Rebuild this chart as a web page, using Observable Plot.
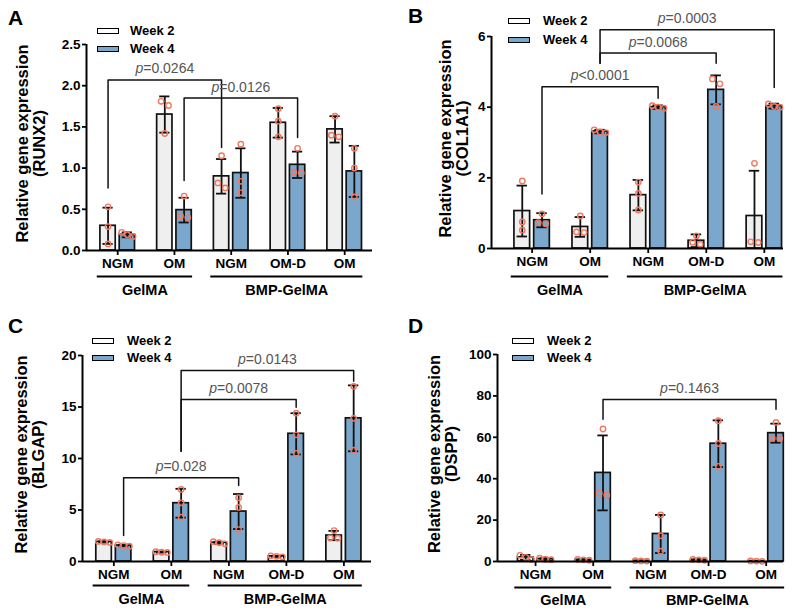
<!DOCTYPE html>
<html><head><meta charset="utf-8">
<script src="https://cdn.jsdelivr.net/npm/d3@7"></script>
<script src="https://cdn.jsdelivr.net/npm/@observablehq/plot@0.6"></script>
<style>
body{margin:0;background:#fff;}
#fig{position:relative;width:800px;height:614px;font-family:"Liberation Sans",Arial,Helvetica,sans-serif;color:#000;}
.panel{position:absolute;width:400px;height:307px;}
.panel svg{position:absolute;left:0;top:0;}
.letter{position:absolute;font-weight:bold;font-size:21px;line-height:21px;}
.leg{position:absolute;font-weight:bold;font-size:13px;line-height:14px;white-space:nowrap;}
.sw{position:absolute;width:20px;height:4px;border:1.5px solid #000;}
</style></head><body><div id="fig"></div>
<script>
// ---------- shared categories ----------
const categories = ["NGM", "OM", "NGM", "OM-D", "OM"];
const groupNames = ["GelMA", "BMP-GelMA"];
const groupFirst = [0, 2];
const groupLast = [1, 4];
const weeks = ["Week 2", "Week 4"];
const genes = ["RUNX2", "COL1A1", "BLGAP", "DSPP"];
const panelLetters = ["A", "B", "C", "D"];

// ---------- A: RUNX2 ----------
const runx2W2Mean = [0.30, 1.65, 0.90, 1.55, 1.47];
const runx2W2Sd   = [0.22, 0.22, 0.21, 0.18, 0.16];
const runx2W2Pts  = [[0.53, 0.29, 0.08], [1.81, 1.76, 1.42], [1.15, 0.82, 0.76], [1.72, 1.57, 1.38], [1.63, 1.40, 1.38]];
const runx2W4Mean = [0.19, 0.49, 0.94, 1.04, 0.96];
const runx2W4Sd   = [0.03, 0.15, 0.30, 0.16, 0.31];
const runx2W4Pts  = [[0.22, 0.19, 0.17], [0.66, 0.42, 0.40], [1.29, 0.84, 0.70], [1.24, 0.95, 0.94], [1.24, 1.00, 0.65]];
const runx2Ticks  = [0, 0.5, 1, 1.5, 2, 2.5];
const runx2Brackets = [
  {a: 0, aw: 0, aEnd: 0.76, b: 2, bw: 0, bEnd: 1.25, top: 2.07, label: "p=0.0264"},
  {a: 1, aw: 1, aEnd: 0.85, b: 3, bw: 1, bEnd: 1.37, top: 1.85, label: "p=0.0126"}
];

// ---------- B: COL1A1 ----------
const col1a1W2Mean = [1.06, 0.61, 1.51, 0.22, 0.92];
const col1a1W2Sd   = [0.72, 0.28, 0.43, 0.18, 1.28];
const col1a1W2Pts  = [[1.91, 0.75, 0.52], [0.92, 0.47, 0.45], [1.88, 1.56, 1.09], [0.36, 0.18, 0.12], [2.41, 0.19, 0.17]];
const col1a1W4Mean = [0.80, 3.31, 4.00, 4.49, 4.03];
const col1a1W4Sd   = [0.20, 0.05, 0.05, 0.41, 0.07];
const col1a1W4Pts  = [[0.98, 0.73, 0.70], [3.36, 3.30, 3.28], [4.04, 4.00, 3.97], [4.80, 4.66, 4.02], [4.09, 4.02, 4.00]];
const col1a1Ticks  = [0, 2, 4, 6];
const col1a1Brackets = [
  {a: 0, aw: 1, aEnd: 1.54, b: 2, bw: 1, bEnd: 4.25, top: 4.58, label: "p<0.0001"},
  {a: 1, aw: 1, aEnd: 5.24, b: 3, bw: 1, bEnd: 5.24, top: 5.53, label: "p=0.0068"},
  {a: 1, aw: 1, aEnd: 5.24, b: 4, bw: 1, bEnd: 4.56, top: 6.19, label: "p=0.0003"}
];

// ---------- C: BLGAP ----------
const blgapW2Mean = [1.90, 0.91, 1.82, 0.50, 2.52];
const blgapW2Sd   = [0.06, 0.05, 0.10, 0.06, 0.45];
const blgapW2Pts  = [[1.95, 1.90, 1.85], [0.95, 0.90, 0.88], [1.92, 1.82, 1.72], [0.55, 0.50, 0.45], [3.00, 2.30, 2.26]];
const blgapW4Mean = [1.55, 5.66, 4.85, 12.40, 13.90];
const blgapW4Sd   = [0.08, 1.40, 1.70, 2.00, 3.20];
const blgapW4Pts  = [[1.62, 1.55, 1.48], [7.00, 5.70, 4.30], [6.20, 5.25, 3.10], [14.40, 12.30, 10.50], [17.00, 13.90, 10.80]];
const blgapTicks  = [0, 5, 10, 15, 20];
const blgapBrackets = [
  {a: 0, aw: 1, aEnd: 2.52, b: 2, bw: 1, bEnd: 7.38, top: 8.12, label: "p=0.028"},
  {a: 1, aw: 1, aEnd: 10.7, b: 3, bw: 1, bEnd: 14.98, top: 15.73, label: "p=0.0078"},
  {a: 1, aw: 1, aEnd: 10.7, b: 4, bw: 1, bEnd: 17.5, top: 18.54, label: "p=0.0143"}
];

// ---------- D: DSPP ----------
const dsppW2Mean = [2.0, 0.8, 0.3, 0.8, 0.2];
const dsppW2Sd   = [1.2, 0.2, 0.1, 0.2, 0.1];
const dsppW2Pts  = [[3.0, 2.0, 1.0], [1.0, 0.8, 0.6], [0.4, 0.3, 0.2], [1.0, 0.8, 0.6], [0.3, 0.2, 0.1]];
const dsppW4Mean = [1.2, 42.8, 13.3, 56.9, 62.0];
const dsppW4Sd   = [0.4, 18.1, 9.2, 11.3, 4.6];
const dsppW4Pts  = [[1.6, 1.1, 0.9], [64.0, 33.0, 32.0], [22.5, 12.5, 5.0], [68.0, 57.0, 46.0], [67.2, 59.6, 59.4]];
const dsppTicks  = [0, 20, 40, 60, 80, 100];
const dsppBrackets = [
  {a: 1, aw: 1, aEnd: 68.7, b: 4, bw: 1, bEnd: 73.5, top: 78.3, label: "p=0.1463"}
];

// ---------- layout (not data) ----------
const COL_W2 = "#efefef", COL_W4 = "#7ba7cd", COL_DOT = "#ee7a62", COL_P = "#555";
const panels = [
  {gene: genes[0], w2: [runx2W2Mean, runx2W2Sd, runx2W2Pts], w4: [runx2W4Mean, runx2W4Sd, runx2W4Pts],
   brackets: runx2Brackets, ticks: runx2Ticks, fmt: d3.format(".1f"), xDomain: [-0.55, 4.49],
   m: [44, 28, 57, 86], left: 0, top: 0, titleDx: -55, lab: [17, 26, 40], letterTop: 7,
   legX: 97, legY: [31, 49], legTextX: 130},
  {gene: genes[1], w2: [col1a1W2Mean, col1a1W2Sd, col1a1W2Pts], w4: [col1a1W4Mean, col1a1W4Sd, col1a1W4Pts],
   brackets: col1a1Brackets, ticks: col1a1Ticks, fmt: d3.format("d"), xDomain: [-0.70, 4.33],
   m: [36, 17, 59, 91], left: 400, top: 0, titleDx: -37, lab: [17, 28, 42], letterTop: 5,
   legX: 108, legY: [21.7, 40], legTextX: 143},
  {gene: genes[2], w2: [blgapW2Mean, blgapW2Sd, blgapW2Pts], w4: [blgapW4Mean, blgapW4Sd, blgapW4Pts],
   brackets: blgapBrackets, ticks: blgapTicks, fmt: d3.format("d"), xDomain: [-0.545, 4.48],
   m: [48, 29, 53, 82], left: 0, top: 307, titleDx: -52, lab: [14, 24, 38], letterTop: 8,
   legX: 92, legY: [34.7, 51.3], legTextX: 127},
  {gene: genes[3], w2: [dsppW2Mean, dsppW2Sd, dsppW2Pts], w4: [dsppW4Mean, dsppW4Sd, dsppW4Pts],
   brackets: dsppBrackets, ticks: dsppTicks, fmt: d3.format("d"), xDomain: [-0.66, 4.30],
   m: [47, 17, 53, 97], left: 400, top: 307, titleDx: -54, lab: [14, 26, 39], letterTop: 8,
   legX: 112, legY: [34.7, 51.3], legTextX: 147}
];

const OFF = 0.17, HW = 0.135, CAP = 0.09;
const pos = (i, w) => i + (w ? OFF : -OFF);

function buildPanel(cfg, k) {
  const yMax = cfg.ticks[cfg.ticks.length - 1];
  const rows = [];
  [cfg.w2, cfg.w4].forEach((s, w) => s[0].forEach((m, i) => rows.push({i, w, mean: m, sd: s[1][i], pts: s[2][i]})));
  const lo = d => Math.max(0, d.mean - d.sd), hi = d => d.mean + d.sd;
  const caps = [];
  rows.forEach(d => { caps.push({d, y: hi(d)}); if (d.mean - d.sd > 0) caps.push({d, y: lo(d)}); });
  // replicate dots: spread side by side where they would overlap
  const tol = yMax * 0.025;
  const dots = [];
  rows.forEach(d => {
    const v = [...d.pts].sort((a, b) => b - a);
    let g = [v[0]];
    const flush = () => {
      const n = g.length, step = n === 2 ? 0.13 : 0.1;
      g.forEach((val, j) => dots.push({x: pos(d.i, d.w) + (j - (n - 1) / 2) * step, y: val}));
    };
    for (let j = 1; j < v.length; j++) {
      if (g[g.length - 1] - v[j] < tol) g.push(v[j]); else { flush(); g = [v[j]]; }
    }
    flush();
  });
  const brPts = cfg.brackets.flatMap((b, j) => [
    {id: j, x: pos(b.a, b.aw), y: b.aEnd},
    {id: j, x: pos(b.a, b.aw), y: b.top},
    {id: j, x: pos(b.b, b.bw), y: b.top},
    {id: j, x: pos(b.b, b.bw), y: b.bEnd}
  ]);
  const groups = groupNames.map((name, j) => ({name, x1: groupFirst[j] - 0.36, x2: groupLast[j] + 0.32}));

  const svg = Plot.plot({
    width: 400, height: 307,
    marginTop: cfg.m[0], marginRight: cfg.m[1], marginBottom: cfg.m[2], marginLeft: cfg.m[3],
    style: {fontFamily: '"Liberation Sans", Arial, Helvetica, sans-serif', fontSize: "13.5px", fontWeight: "bold", color: "#000", background: "#fff", overflow: "visible"},
    x: {domain: cfg.xDomain},
    y: {domain: [0, yMax]},
    marks: [
      Plot.rect(rows, {x1: d => pos(d.i, d.w) - HW, x2: d => pos(d.i, d.w) + HW, y1: () => 0, y2: "mean",
        fill: d => d.w ? COL_W4 : COL_W2, stroke: "#111", strokeWidth: 1.7}),
      Plot.ruleX(rows, {x: d => pos(d.i, d.w), y1: lo, y2: hi, stroke: "#111", strokeWidth: 1.8}),
      Plot.ruleY(caps, {y: "y", x1: c => pos(c.d.i, c.d.w) - CAP, x2: c => pos(c.d.i, c.d.w) + CAP, stroke: "#111", strokeWidth: 1.8}),
      Plot.dot(dots, {x: "x", y: "y", r: 2.7, stroke: COL_DOT, strokeWidth: 1.4, fill: "none"}),
      Plot.line(brPts, {x: "x", y: "y", z: "id", stroke: "#111", strokeWidth: 1.5}),
      Plot.text(cfg.brackets, {x: b => (pos(b.a, b.aw) + pos(b.b, b.bw)) / 2, y: "top", text: "label", dy: -11,
        fill: COL_P, fontWeight: "normal", fontSize: 14}),
      Plot.ruleY([0], {stroke: "#000", strokeWidth: 2}),
      Plot.ruleX([cfg.xDomain[0]], {stroke: "#000", strokeWidth: 2}),
      Plot.axisY({ticks: cfg.ticks, tickFormat: cfg.fmt, tickSize: 4, tickPadding: 2, strokeWidth: 1.8, label: null}),
      Plot.axisX({ticks: [0, 1, 2, 3, 4], tickFormat: i => categories[i], tickSize: 5, tickPadding: 3, strokeWidth: 1.8, label: null}),
      Plot.ruleY(groups, {x1: "x1", x2: "x2", y: () => 0, dy: cfg.lab[1], stroke: "#000", strokeWidth: 2}),
      Plot.text(groups, {x: g => (g.x1 + g.x2) / 2, y: () => 0, dy: cfg.lab[2], text: "name", fontSize: 14.5}),
      Plot.text([`Relative gene expression\n(${cfg.gene})`], {frameAnchor: "left", textAnchor: "middle", lineAnchor: "middle",
        rotate: -90, dx: cfg.titleDx, dy: -4, text: d => d, fontSize: 16.5, lineHeight: 1.02})
    ]
  });
  // italic "p" in p-value labels
  const ns = "http://www.w3.org/2000/svg";
  svg.querySelectorAll("text").forEach(t => {
    const s = t.textContent;
    if (/^p[=<]/.test(s) && !t.querySelector("tspan")) {
      t.textContent = "";
      const a = document.createElementNS(ns, "tspan"); a.setAttribute("font-style", "italic"); a.textContent = "p";
      const b = document.createElementNS(ns, "tspan"); b.textContent = s.slice(1);
      t.append(a, b);
    }
  });

  const div = document.createElement("div");
  div.className = "panel";
  div.style.left = cfg.left + "px"; div.style.top = cfg.top + "px";
  div.appendChild(svg);
  const letter = document.createElement("div");
  letter.className = "letter"; letter.textContent = panelLetters[k];
  letter.style.left = "8px"; letter.style.top = cfg.letterTop + "px";
  div.appendChild(letter);
  weeks.forEach((w, j) => {
    const sw = document.createElement("div");
    sw.className = "sw";
    sw.style.left = cfg.legX + "px"; sw.style.top = (cfg.legY[j] - 3.5) + "px";
    sw.style.background = j ? COL_W4 : "#fff";
    div.appendChild(sw);
    const t = document.createElement("div");
    t.className = "leg"; t.textContent = w;
    t.style.left = cfg.legTextX + "px"; t.style.top = (cfg.legY[j] - 7.5) + "px";
    div.appendChild(t);
  });
  return div;
}

const fig = document.getElementById("fig");
panels.forEach((cfg, k) => fig.appendChild(buildPanel(cfg, k)));
</script>
</body></html>
